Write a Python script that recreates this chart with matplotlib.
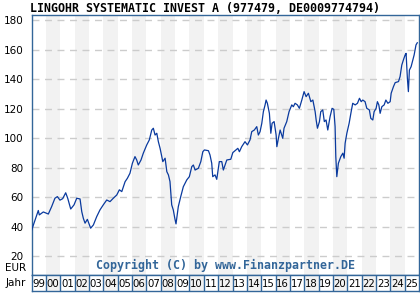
import matplotlib
matplotlib.use('Agg')
import matplotlib.pyplot as plt

title = 'LINGOHR SYSTEMATIC INVEST A (977479, DE0009774794)'
copyright_text = 'Copyright (C) by www.Finanzpartner.DE'

# price history (decimal year, EUR)
years = [1999.00, 1999.16, 1999.35, 1999.46, 1999.53, 1999.81, 1999.93, 2000.16, 2000.39, 2000.62,
         2000.79, 2000.97, 2001.16, 2001.37, 2001.51, 2001.72, 2001.95, 2002.14, 2002.37, 2002.49,
         2002.60, 2002.72, 2002.88, 2003.11, 2003.30, 2003.53, 2003.76, 2003.99, 2004.23, 2004.46,
         2004.69, 2004.93, 2005.11, 2005.28, 2005.51, 2005.67, 2005.85, 2006.02, 2006.20, 2006.32,
         2006.43, 2006.62, 2006.78, 2007.02, 2007.20, 2007.37, 2007.48, 2007.60, 2007.72, 2007.83,
         2007.95, 2008.14, 2008.30, 2008.42, 2008.53, 2008.64, 2008.76, 2008.87, 2008.99, 2009.06,
         2009.22, 2009.39, 2009.57, 2009.81, 2009.99, 2010.16, 2010.27, 2010.39, 2010.62, 2010.79,
         2010.93, 2011.04, 2011.32, 2011.43, 2011.55, 2011.62, 2011.78, 2011.90, 2012.08, 2012.25,
         2012.36, 2012.48, 2012.60, 2012.88, 2013.02, 2013.18, 2013.37, 2013.48, 2013.64, 2013.87,
         2014.04, 2014.22, 2014.34, 2014.52, 2014.69, 2014.80, 2014.92, 2015.04, 2015.15, 2015.27,
         2015.34, 2015.43, 2015.57, 2015.67, 2015.76, 2015.90, 2016.04, 2016.09, 2016.20, 2016.32,
         2016.50, 2016.59, 2016.78, 2016.94, 2017.13, 2017.24, 2017.36, 2017.52, 2017.66, 2017.83,
         2017.99, 2018.13, 2018.29, 2018.46, 2018.60, 2018.76, 2018.83, 2018.92, 2019.06, 2019.15,
         2019.29, 2019.40, 2019.52, 2019.64, 2019.80, 2019.94, 2020.06, 2020.15, 2020.20, 2020.27,
         2020.38, 2020.55, 2020.69, 2020.78, 2020.85, 2020.97, 2021.13, 2021.25, 2021.38, 2021.55,
         2021.71, 2021.85, 2021.97, 2022.08, 2022.24, 2022.36, 2022.54, 2022.64, 2022.78, 2022.87,
         2023.01, 2023.10, 2023.20, 2023.29, 2023.41, 2023.57, 2023.69, 2023.83, 2023.99, 2024.06,
         2024.22, 2024.34, 2024.57, 2024.68, 2024.80, 2024.91, 2025.03, 2025.10, 2025.19, 2025.26,
         2025.33, 2025.45, 2025.57, 2025.66, 2025.79, 2025.88]
prices = [37.8, 42.4, 48.0, 51.0, 48.0, 50.0, 49.5, 48.6, 53.6, 59.3,
          60.4, 58.0, 59.0, 63.0, 59.3, 52.0, 54.8, 59.3, 58.8, 50.2,
          45.7, 42.4, 45.0, 39.0, 41.2, 46.8, 51.4, 54.8, 58.1, 57.0,
          59.3, 61.5, 65.0, 63.8, 70.5, 72.8, 76.2, 83.0, 87.5, 85.2,
          81.8, 85.2, 89.8, 95.4, 98.8, 105.5, 106.7, 102.1, 103.3, 97.6,
          93.1, 84.1, 86.4, 77.3, 75.1, 70.6, 54.8, 51.4, 45.0, 41.9,
          53.6, 60.4, 67.1, 71.7, 73.9, 80.7, 81.8, 78.4, 79.6, 84.1,
          90.8, 92.0, 91.5, 88.6, 83.0, 73.9, 75.1, 72.1, 84.1, 84.1,
          78.4, 81.8, 85.2, 85.7, 90.2, 91.5, 93.1, 90.8, 94.2, 97.6,
          95.4, 98.8, 104.4, 105.5, 107.8, 102.1, 104.4, 110.0, 117.9, 122.5,
          125.8, 123.6, 116.8, 103.3, 110.1, 111.2, 102.1, 94.2, 99.9, 105.5,
          99.9, 106.7, 111.2, 117.9, 122.5, 121.3, 123.6, 122.5, 120.2, 125.8,
          131.5, 128.1, 130.4, 124.7, 125.8, 117.9, 112.3, 106.7, 111.2, 117.9,
          119.1, 111.2, 112.3, 105.5, 114.5, 120.2, 119.5, 107.8, 87.5, 73.9,
          83.0, 87.5, 89.8, 86.4, 96.5, 103.3, 110.1, 116.8, 123.6, 122.5,
          123.6, 127.0, 124.7, 125.8, 124.7, 120.2, 119.1, 113.4, 112.3, 117.9,
          120.2, 124.7, 122.5, 116.8, 121.3, 122.5, 125.8, 123.6, 124.7, 130.4,
          134.9, 137.6, 138.3, 141.7, 149.5, 152.9, 156.3, 157.4, 140.5, 131.5,
          146.1, 148.4, 152.9, 156.3, 163.1, 164.6]

y_ticks = [20, 40, 60, 80, 100, 120, 140, 160, 180]
first_year = 1999
last_year = 2025

frame_col = '#336699'
band_col = '#f2f2f2'
line_col = '#0a3a9e'

W, H = 420, 300
fig = plt.figure(figsize=(W / 100, H / 100), dpi=100)
fig.patch.set_facecolor('white')

# main price panel: x 31.7..419 px, y 15..275 px
ax = fig.add_axes([31.7 / W, 1 - 275 / H, (419 - 31.7) / W, (275 - 15) / H])
ax.set_xlim(first_year, last_year + 1)
ax.set_ylim(7.3, 183.4)
for yr in range(first_year, last_year + 1):
    if yr % 2 == 0:
        ax.axvspan(yr, yr + 1, color=band_col, lw=0, zorder=0)
ax.set_yticks(y_ticks)
ax.set_yticklabels([str(v) for v in y_ticks], fontsize=7.5, family='DejaVu Sans')
ax.tick_params(axis='y', length=0, pad=6)
ax.set_xticks([])
ax.yaxis.grid(True, color='#cccccc', linestyle=(0, (5, 4)), linewidth=1.0)
ax.set_axisbelow(True)
for s in ax.spines.values():
    s.set_color(frame_col)
    s.set_linewidth(1.0)
ax.plot(years, prices, color=line_col, linewidth=0.9, zorder=3)
ax.text(0.5, (270 - 267) / 260, copyright_text, transform=ax.transAxes,
        ha='center', va='bottom', fontsize=8.4, family='DejaVu Sans Mono',
        fontweight='bold', color=frame_col, zorder=4)

# year strip below the panel
ay = fig.add_axes([31.7 / W, 1 - 291 / H, (419 - 31.7) / W, 16 / H])
ay.set_xlim(first_year, last_year + 1)
ay.set_ylim(0, 1)
ay.set_xticks([])
ay.set_yticks([])
for yr in range(first_year, last_year + 1):
    if yr % 2 == 0:
        ay.axvspan(yr, yr + 1, color=band_col, lw=0, zorder=0)
    if yr > first_year:
        ay.axvline(yr, color=frame_col, linewidth=1.0)
    ay.text(yr + 0.5, 0.45, '%02d' % (yr % 100), ha='center', va='center',
            fontsize=7.3, family='DejaVu Sans')
for s in ay.spines.values():
    s.set_color(frame_col)
    s.set_linewidth(1.0)

fig.text(26 / W, 1 - 268 / H, 'EUR', ha='right', va='center', fontsize=7.5)
fig.text(26 / W, 1 - 283 / H, 'Jahr', ha='right', va='center', fontsize=7.5)
fig.text(30 / W, 1 - 8 / H, title, ha='left', va='center', fontsize=8.4,
         family='DejaVu Sans Mono', fontweight='bold')

fig.savefig('out.png', dpi=100)
